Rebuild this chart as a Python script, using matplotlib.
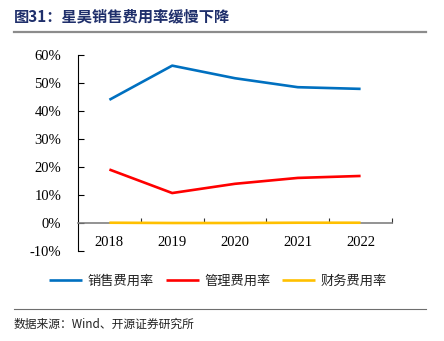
import matplotlib
matplotlib.use("Agg")
import matplotlib.pyplot as plt
from matplotlib.lines import Line2D

# Data
years = ["2018", "2019", "2020", "2021", "2022"]
sales_rate = [44.0, 56.2, 51.7, 48.5, 47.9]
admin_rate = [19.1, 10.7, 14.0, 16.1, 16.8]
finance_rate = [0.1, 0.0, 0.0, 0.1, 0.1]
series_names = ["销售费用率", "管理费用率", "财务费用率"]
y_ticks = [-10, 0, 10, 20, 30, 40, 50, 60]

colors = ["#0070C0", "#FF0000", "#FFC000"]
cjk = ["Noto Sans CJK SC", "DejaVu Sans"]
serif = "Liberation Serif"
plt.rcParams["font.family"] = [serif, "Noto Sans CJK SC"]

fig = plt.figure(figsize=(4.44, 3.41), dpi=100)
W, H = 444, 341

# header / footer
fig.text(14 / W, 1 - 16 / H, "图31：星昊销售费用率缓慢下降", family=cjk,
         fontsize=11, fontweight="bold", color="#1F2F6B", va="center", ha="left")
fig.add_artist(Line2D([14 / W, 426 / W], [1 - 32 / H, 1 - 32 / H], color="#8C8C8C", lw=1.6))
fig.add_artist(Line2D([14 / W, 426 / W], [1 - 309 / H, 1 - 309 / H], color="#6E6E6E", lw=0.8))
fig.text(14 / W, 1 - 324 / H, "数据来源：Wind、开源证券研究所", family=cjk,
         fontsize=8.5, color="#222222", va="center", ha="left")

ax = fig.add_axes([78 / W, 1 - 251 / H, (392 - 78) / W, (251 - 55) / H])
ax.spines["top"].set_visible(False)
ax.spines["right"].set_visible(False)
ax.spines["bottom"].set_position(("data", 0))
ax.spines["bottom"].set_color("#808080")
ax.spines["bottom"].set_linewidth(1.2)
ax.spines["left"].set_linewidth(0.8)

x = range(len(years))
for vals, c, name in zip([sales_rate, admin_rate, finance_rate], colors, series_names):
    ax.plot(x, vals, color=c, lw=1.9, label=name, solid_capstyle="butt", zorder=3)

ax.set_xlim(-0.5, len(years) - 0.5)
ax.set_ylim(-10, 60)
ax.set_yticks(y_ticks)
ax.set_yticklabels([f"{t}%" for t in y_ticks], family=serif, fontsize=10.5)
ax.set_xticks(list(x))
ax.set_xticklabels(years, family=serif, fontsize=10.5)
ax.set_xticks([i + 0.5 for i in range(len(years))], minor=True)

ax.tick_params(axis="y", direction="in", length=4, width=0.8, pad=12)
ax.tick_params(axis="x", which="major", length=0, pad=9)
ax.tick_params(axis="x", which="minor", direction="in", length=3.5, width=0.8, color="#333333")

leg = fig.legend(loc="center", bbox_to_anchor=(218 / W, 1 - 281 / H), ncol=3, frameon=False,
                 prop={"family": cjk, "size": 9.5}, handlelength=2.5, handletextpad=0.4,
                 columnspacing=0.9)
for t in leg.get_texts():
    t.set_color("#222222")

fig.savefig("out.png", dpi=100, facecolor="white")
